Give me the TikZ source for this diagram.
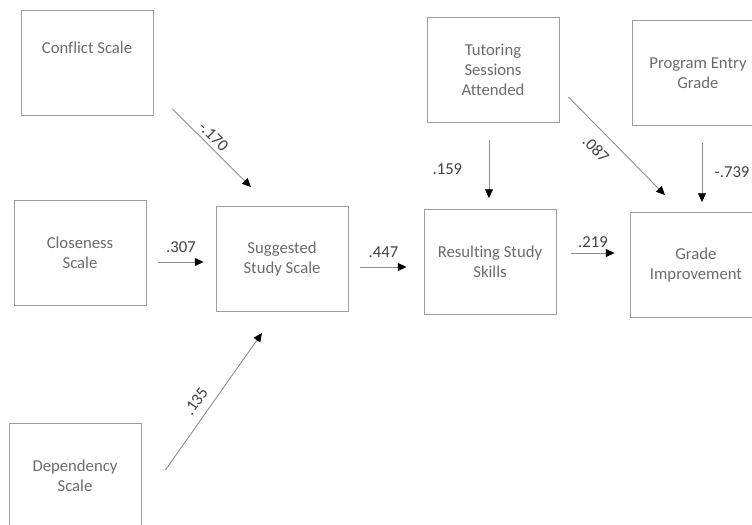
\documentclass[tikz,border=0pt]{standalone}
\usepackage{fontspec}
\setmainfont{Carlito}[Ligatures=NoCommon]
\usetikzlibrary{arrows.meta,calc}
\begin{document}
\begin{tikzpicture}[x=0.02cm,y=-0.02cm,
    var/.style={draw=black!38,line width=0.5pt,minimum width=2.64cm,minimum height=2.1cm,
      align=center,text=black!58,font=\fontsize{9.5}{11.5}\selectfont},
    effect/.style={draw=black!45,line width=0.5pt,-{Triangle[black,length=5pt,width=4.5pt]}},
    coef/.style={text=black!75,font=\fontsize{9.5}{11.5}\selectfont,inner sep=2pt}]
    \useasboundingbox (0,0) rectangle (752,525);
    \clip (0,0) rectangle (752,525);
    %% predictors
    \node[var,text depth=17pt] (conflict) at (87,63) {Conflict Scale};
    \node[var] (closeness) at (80,253) {Closeness\\Scale};
    \node[var] (dependency) at (75,476) {Dependency\\Scale};
    %% mediators
    \node[var] (suggested) at (282,259) {Suggested\\Study Scale};
    \node[var] (tutoring) at (493,70) {Tutoring\\Sessions\\Attended};
    \node[var] (resulting) at (490,262) {Resulting Study\\Skills};
    %% outcome
    \node[var] (entry) at (698,73) {Program Entry\\Grade};
    \node[var] (grade) at (696,265) {Grade\\Improvement};
    %% paths into suggested study scale
    \draw[effect] ($(conflict.south east)+(19,-7)$) -- node[coef,above,sloped,pos=0.44] {-.170} ($(suggested.north)+(-31,-19)$);
    \draw[effect] ($(closeness.east)+(12,9)$) -- node[coef,above=3pt] {.307} ($(suggested.west)+(-12,3)$);
    \draw[effect] ($(dependency.east)+(24,-6)$) -- node[coef,above=3pt,sloped,pos=0.44] {.135} ($(suggested.south)+(-20,21)$);
    %% paths into resulting study skills
    \draw[effect] ($(suggested.east)+(12,8)$) -- node[coef,above=3pt] {.447} ($(resulting.west)+(-17,5)$);
    \draw[effect] ($(tutoring.south)+(-4,17)$) -- node[coef,left=13pt] {.159} ($(resulting.north)+(-1,-11)$);
    %% paths into grade improvement
    \draw[effect] ($(tutoring.east)+(9,27)$) -- node[coef,below=4pt,sloped,pos=0.41] {.087} ($(grade.north)+(-31,-17)$);
    \draw[effect] ($(entry.south)+(4,17)$) -- node[coef,right=5pt] {-.739} ($(grade.north)+(6,-10)$);
    \draw[effect] ($(resulting.east)+(15,-9)$) -- node[coef,above=1pt] {.219} ($(grade.west)+(-15,-12)$);
\end{tikzpicture}
\end{document}
